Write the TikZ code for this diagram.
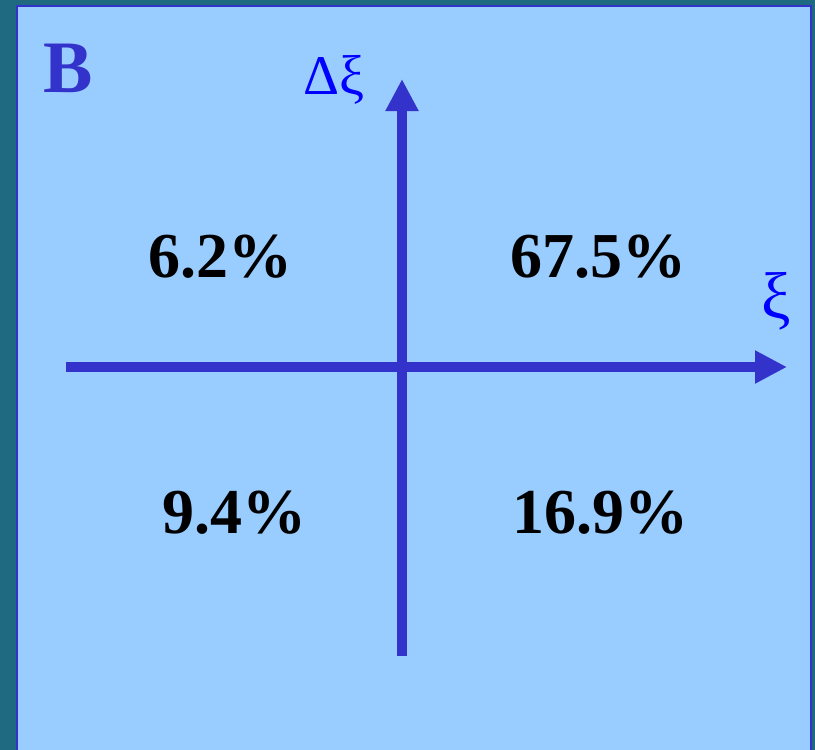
\documentclass[tikz,border=0pt]{standalone}
\usepackage{fontspec}
\setmainfont{Liberation Serif}
\usetikzlibrary{arrows.meta}
\definecolor{bgteal}{HTML}{1F6A80}
\definecolor{panel}{HTML}{99CCFF}
\definecolor{axisblue}{HTML}{3333CC}
\definecolor{lblblue}{HTML}{0000FF}
\tikzset{
  axisline/.style={draw=axisblue, line width=10pt, -{Triangle[length=32pt,width=31pt]}},
  pct/.style={font=\fontsize{64}{64}\selectfont\bfseries, text=black, inner sep=0pt},
  axlbl/.style={font=\fontsize{44}{44}\selectfont, text=lblblue, inner sep=0pt}
}
\begin{document}
\begin{tikzpicture}[x=1pt,y=-1pt]
\useasboundingbox (0,0) rectangle (815,750);
\fill[bgteal] (0,0) rectangle (815,750);
\fill[panel] (17,6) rectangle (811,760);
\draw[axisblue, line width=2.5pt] (17,760) -- (17,6) -- (811,6) -- (811,760);
\node[font=\fontsize{74}{74}\selectfont\bfseries, text=axisblue, inner sep=0pt, anchor=base west] (B) at (43,92) {B};
\coordinate (xs) at (66,367);
\coordinate (xe) at (787,367);
\coordinate (ys) at (402,656);
\coordinate (ye) at (402,79);
\draw[axisline] (xs) -- (xe);
\draw[axisline] (ys) -- (ye);
\node[axlbl, anchor=base west] (dxi) at (303,94) {{\fontsize{56}{56}\selectfont Δ}{\fontsize{56}{56}\selectfont ξ}};
\node[axlbl, anchor=center, font=\fontsize{66}{66}\selectfont] (xi) at (776,301) {ξ};
\node[pct, anchor=base] (q2) at (220,277) {6.2\%};
\node[pct, anchor=base] (q1) at (598,277) {67.5\%};
\node[pct, anchor=base] (q3) at (234,533) {9.4\%};
\node[pct, anchor=base] (q4) at (600,533) {16.9\%};
\end{tikzpicture}
\end{document}
